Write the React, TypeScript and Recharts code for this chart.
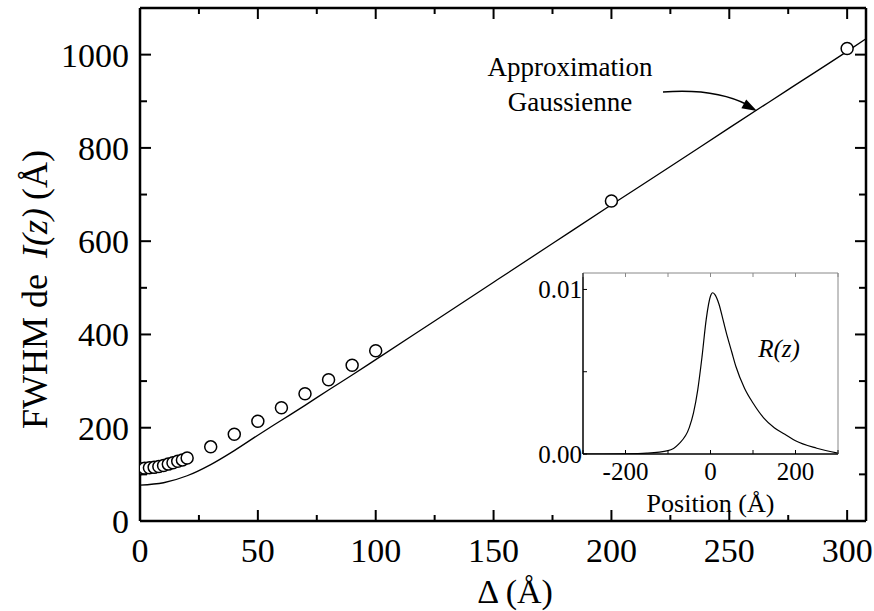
import React from "react";
import { ComposedChart, LineChart, Line, Scatter, XAxis, YAxis } from "recharts";

// measured FWHM (circles)
const deltaPoints = [0, 2, 4, 6, 8, 10, 12, 14, 16, 18, 20, 30, 40, 50, 60, 70, 80, 90, 100, 200, 300];
const fwhmPoints = [112, 113, 114, 115, 117, 119, 122, 125, 128, 131, 135, 159, 186, 214, 243, 273, 303, 334, 365, 686, 1013];

// gaussian approximation (solid line)
const fitDelta = [0, 10, 20, 30, 40, 50, 60, 70, 80, 90, 100, 125, 150, 175, 200, 225, 250, 275, 300, 308];
const fitFwhm = [77, 82, 97, 121, 151, 184, 216, 248, 281, 313, 346, 429, 512, 595, 678, 760, 843, 925, 1007, 1034];

// inset R(z)
const insetPos = [-300, -250, -200, -150, -100, -75, -50, -40, -30, -20, -10, 0, 5, 10, 20, 30, 40, 50, 60, 80, 100, 125, 150, 175, 200, 250, 300];
const insetR = [0, 0, 0.00001, 0.00005, 0.0002, 0.0006, 0.0016, 0.0025, 0.0039, 0.0059, 0.0082, 0.0096, 0.0098, 0.0097, 0.0091, 0.0081, 0.0071, 0.0062, 0.0053, 0.004, 0.0031, 0.0022, 0.0016, 0.0012, 0.0008, 0.00035, 0.00005];

const xTicks = [0, 25, 50, 75, 100, 125, 150, 175, 200, 225, 250, 275, 300];
const xLabels = [0, 50, 100, 150, 200, 250, 300];
const yTicks = [0, 100, 200, 300, 400, 500, 600, 700, 800, 900, 1000, 1100];
const yLabels = [0, 200, 400, 600, 800, 1000];

const insetXTicks = [-300, -200, -100, 0, 100, 200, 300];
const insetXLabels = [-200, 0, 200];
const insetYTicks = [0, 0.005, 0.01];
const insetYLabels = [0, 0.01];

const points = deltaPoints.map((x, i) => ({ x, y: fwhmPoints[i] }));
const fit = fitDelta.map((x, i) => ({ x, y: fitFwhm[i] }));
const inset = insetPos.map((x, i) => ({ x, y: insetR[i] }));

const serif = "Liberation Serif, Times New Roman, serif";

const BottomTick = ({ x, y, payload }: any) => {
  const major = xLabels.includes(payload.value);
  return (
    <g>
      <line x1={x} y1={y} x2={x} y2={y - (major ? 11 : 6)} stroke="#000" strokeWidth={2} />
      {major && (
        <text x={x} y={y + 41} textAnchor="middle" fontSize={34} fontFamily={serif} fill="#000">
          {payload.value}
        </text>
      )}
    </g>
  );
};

const TopTick = ({ x, y, payload }: any) => {
  const major = xLabels.includes(payload.value);
  return <line x1={x} y1={y} x2={x} y2={y + (major ? 11 : 6)} stroke="#000" strokeWidth={2} />;
};

const LeftTick = ({ x, y, payload }: any) => {
  const major = yLabels.includes(payload.value);
  return (
    <g>
      <line x1={x} y1={y} x2={x + (major ? 11 : 7)} y2={y} stroke="#000" strokeWidth={2} />
      {major && (
        <text x={x - 11} y={y + 12} textAnchor="end" fontSize={34} fontFamily={serif} fill="#000">
          {payload.value}
        </text>
      )}
    </g>
  );
};

const RightTick = ({ x, y, payload }: any) => {
  const major = yLabels.includes(payload.value);
  return <line x1={x} y1={y} x2={x - (major ? 11 : 7)} y2={y} stroke="#000" strokeWidth={2} />;
};

const InsetBottomTick = ({ x, y, payload }: any) => (
  <g>
    <line x1={x} y1={y} x2={x} y2={y - 4} stroke="#000" strokeWidth={1} />
    {insetXLabels.includes(payload.value) && (
      <text x={x} y={y + 26} textAnchor="middle" fontSize={25} fontFamily={serif} fill="#000">
        {payload.value}
      </text>
    )}
  </g>
);

const InsetTopTick = ({ x, y }: any) => (
  <line x1={x} y1={y} x2={x} y2={y + 4} stroke="#888" strokeWidth={1} />
);

const InsetLeftTick = ({ x, y, payload }: any) => (
  <g>
    <line x1={x} y1={y} x2={x + 4} y2={y} stroke="#000" strokeWidth={1} />
    {insetYLabels.includes(payload.value) && (
      <text x={x - 1} y={y + 9} textAnchor="end" fontSize={25} fontFamily={serif} fill="#000">
        {payload.value.toFixed(2)}
      </text>
    )}
  </g>
);

const Circle = ({ cx, cy }: any) => (
  <circle cx={cx} cy={cy} r={6} fill="#fff" stroke="#000" strokeWidth={1.5} />
);

const YTitle = ({ viewBox }: any) => {
  const cx = 47;
  const cy = viewBox.y + viewBox.height / 2 + 25;
  return (
    <text
      x={cx}
      y={cy}
      transform={`rotate(-90 ${cx} ${cy})`}
      textAnchor="middle"
      fontSize={36}
      fontFamily={serif}
      fill="#000"
    >
      FWHM de
      <tspan dx={16} fontStyle="italic">I(z)</tspan>
      <tspan dx={8}>(Å)</tspan>
    </text>
  );
};

const XTitle = ({ viewBox }: any) => (
  <text
    x={viewBox.x + viewBox.width / 2 + 12}
    y={603}
    textAnchor="middle"
    fontSize={34}
    fontFamily={serif}
    fill="#000"
  >
    Δ (Å)
  </text>
);

// inset coordinates are local to the inset chart
const InsetXTitle = ({ viewBox }: any) => (
  <text x={viewBox.x + viewBox.width / 2} y={252} textAnchor="middle" fontSize={26} fontFamily={serif} fill="#000">
    Position (Å)
  </text>
);

export default function App() {
  return (
    <div
      style={{
        position: "absolute",
        left: 0,
        top: 0,
        width: 874,
        height: 611,
        background: "#fff",
        fontFamily: serif,
      }}
    >
      <ComposedChart width={874} height={611} margin={{ top: 7, right: 7, left: 0, bottom: 0 }}>
        <XAxis
          xAxisId={0}
          type="number"
          dataKey="x"
          domain={[0, 308]}
          ticks={xTicks}
          interval={0}
          height={90}
          tickSize={0}
          tickMargin={0}
          tickLine={false}
          tick={<BottomTick />}
          axisLine={{ stroke: "#000", strokeWidth: 2.5 }}
          allowDataOverflow
          label={<XTitle />}
        />
        <XAxis
          xAxisId="top"
          orientation="top"
          type="number"
          dataKey="x"
          domain={[0, 308]}
          ticks={xTicks}
          interval={0}
          height={1}
          tickSize={0}
          tickMargin={0}
          tickLine={false}
          tick={<TopTick />}
          axisLine={{ stroke: "#000", strokeWidth: 2.5 }}
          allowDataOverflow
        />
        <YAxis
          yAxisId={0}
          type="number"
          dataKey="y"
          domain={[0, 1100]}
          ticks={yTicks}
          interval={0}
          width={140}
          tickSize={0}
          tickMargin={0}
          tickLine={false}
          tick={<LeftTick />}
          axisLine={{ stroke: "#000", strokeWidth: 2.5 }}
          allowDataOverflow
          label={<YTitle />}
        />
        <YAxis
          yAxisId="right"
          orientation="right"
          type="number"
          dataKey="y"
          domain={[0, 1100]}
          ticks={yTicks}
          interval={0}
          width={1}
          tickSize={0}
          tickMargin={0}
          tickLine={false}
          tick={<RightTick />}
          axisLine={{ stroke: "#000", strokeWidth: 2.5 }}
          allowDataOverflow
        />
        {/* invisible twin so the mirrored frame axes get drawn */}
        <Line
          data={fit}
          dataKey="y"
          xAxisId="top"
          yAxisId="right"
          stroke="none"
          dot={false}
          legendType="none"
          isAnimationActive={false}
        />
        <Line
          data={fit}
          dataKey="y"
          type="monotone"
          stroke="#000"
          strokeWidth={1.3}
          dot={false}
          isAnimationActive={false}
        />
        <Scatter data={points} dataKey="y" shape={<Circle />} isAnimationActive={false} />
      </ComposedChart>

      <div style={{ position: "absolute", left: 520, top: 260 }}>
        <LineChart width={340} height={260} data={inset} margin={{ top: 12, right: 21, left: 0, bottom: 0 }}>
          <XAxis
            type="number"
            dataKey="x"
            domain={[-300, 300]}
            ticks={insetXTicks}
            interval={0}
            height={66}
            tickSize={0}
            tickMargin={0}
            tickLine={false}
            tick={<InsetBottomTick />}
            axisLine={{ stroke: "#000", strokeWidth: 1.5 }}
            label={<InsetXTitle />}
          />
          <XAxis
            xAxisId="top"
            orientation="top"
            type="number"
            dataKey="x"
            domain={[-300, 300]}
            ticks={insetXTicks}
            interval={0}
            height={1}
            tickSize={0}
            tickMargin={0}
            tickLine={false}
            tick={<InsetTopTick />}
            axisLine={{ stroke: "#888", strokeWidth: 1 }}
          />
          <YAxis
            type="number"
            domain={[0, 0.011]}
            ticks={insetYTicks}
            interval={0}
            width={63}
            tickSize={0}
            tickMargin={0}
            tickLine={false}
            tick={<InsetLeftTick />}
            axisLine={{ stroke: "#000", strokeWidth: 1.5 }}
            allowDataOverflow
          />
          <YAxis
            yAxisId="right"
            orientation="right"
            type="number"
            domain={[0, 0.011]}
            width={1}
            tick={false}
            tickLine={false}
            axisLine={{ stroke: "#888", strokeWidth: 1 }}
            allowDataOverflow
          />
          <Line
            dataKey="y"
            xAxisId="top"
            yAxisId="right"
            stroke="none"
            dot={false}
            legendType="none"
            isAnimationActive={false}
          />
          <Line dataKey="y" type="monotone" stroke="#000" strokeWidth={1.2} dot={false} isAnimationActive={false} />
        </LineChart>
      </div>

      <svg
        width={874}
        height={611}
        style={{ position: "absolute", left: 0, top: 0, pointerEvents: "none" }}
      >
        <text x={570} y={76} textAnchor="middle" fontSize={27} fontFamily={serif} fill="#000">
          Approximation
        </text>
        <text x={570} y={111} textAnchor="middle" fontSize={27} fontFamily={serif} fill="#000">
          Gaussienne
        </text>
        <path d="M663,92 Q715,88 748,105" fill="none" stroke="#000" strokeWidth={1.5} />
        <polygon points="757,111 741.4,108.2 746.2,99.4" fill="#000" />
        <text x={779} y={357} textAnchor="middle" fontSize={25} fontFamily={serif} fontStyle="italic" fill="#000">
          R(z)
        </text>
      </svg>
    </div>
  );
}
